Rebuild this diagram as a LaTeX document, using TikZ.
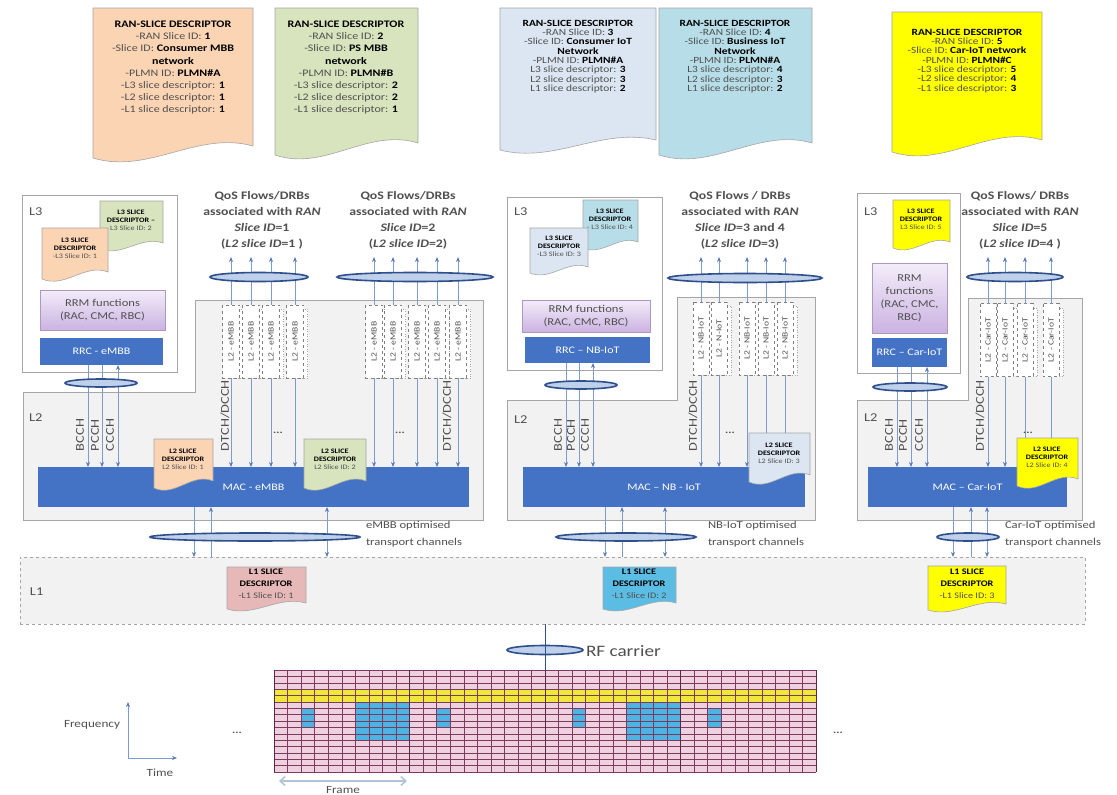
\documentclass[tikz,border=0pt]{standalone}
\usepackage{fontspec}
\setmainfont{Carlito}[FakeStretch=1.2]
\usetikzlibrary{arrows.meta,shapes.geometric,calc}

\definecolor{peach}{HTML}{FBD4B4}
\definecolor{sgreen}{HTML}{D7E4BD}
\definecolor{sgray}{HTML}{DCE6F2}
\definecolor{steal}{HTML}{B7DEE8}
\definecolor{syellow}{HTML}{FFFF00}
\definecolor{spink}{HTML}{E6B9B8}
\definecolor{sblue}{HTML}{5BBCE4}
\definecolor{macblue}{HTML}{4472C4}
\definecolor{rrmtop}{HTML}{F3ECF9}
\definecolor{rrmbot}{HTML}{CBB3E2}
\definecolor{boxgray}{HTML}{F2F2F2}
\definecolor{edgegray}{HTML}{A6A6A6}
\definecolor{flowblue}{HTML}{7E9BCF}
\definecolor{tipblue}{HTML}{5A7BB8}
\definecolor{tubeedge}{HTML}{2E4F8C}
\definecolor{tubefill}{HTML}{BFD0EA}
\definecolor{txtgray}{HTML}{505050}
\definecolor{cellpink}{HTML}{EFD0DF}
\definecolor{cellline}{HTML}{7D3A5E}
\definecolor{cellyellow}{HTML}{EDE83A}
\definecolor{cellblue}{HTML}{4DB3E3}
\definecolor{framearrow}{HTML}{B4C5D9}

\newcommand{\bk}[1]{\textbf{\color{black}#1}}
\newcommand{\fs}[2]{\fontsize{#1}{#2}\selectfont}
% rectangle node given by two corners
\newcommand{\rectnode}[7]{%
  \node[#2, minimum width={(#5-#3)*1pt}, minimum height={(#6-#4)*1pt}]
    (#1) at ({(#3+#5)/2},{(#4+#6)/2}) {#7};}
% document outline with a wavy lower edge
\newcommand{\docpath}[6]{%
  \path[docedge, fill=#1] (#2,#3) -- (#4,#3) -- (#4,#5)
    .. controls ({#2+0.65*(#4-#2)},{#5-1.3*#6}) and ({#2+0.35*(#4-#2)},{#5+2.4*#6})
    .. (#2,{#5+#6}) -- cycle;}
% block of resource-grid cells: colour, first col, last col, first row, last row
\newcommand{\cells}[5]{%
  \fill[#1] ({274+#2*13.55},{670+#4*6.375}) rectangle ({274+(#3+1)*13.55},{670+(#5+1)*6.375});}

\tikzset{
  every node/.style={inner sep=0pt, outer sep=0pt},
  docedge/.style={draw=edgegray, line width=0.6pt},
  layerbox/.style={draw=edgegray, fill=white, line width=0.8pt},
  layerarea/.style={draw=edgegray, fill=boxgray, line width=0.8pt},
  l1box/.style={draw=edgegray, fill=boxgray, dashed, line width=0.8pt},
  layerlbl/.style={font=\fs{12}{14}, text=txtgray},
  rrmbox/.style={top color=rrmtop, bottom color=rrmbot, draw=rrmbot!85!black, line width=0.4pt, align=center, text=txtgray, font=\fs{10.5}{13}},
  rrcbox/.style={fill=macblue, text=white, font=\fs{10}{12}},
  macbox/.style={fill=macblue, text=white, font=\fs{10}{12}},
  flow/.style={draw=flowblue, line width=0.8pt, -{Stealth[length=5pt,width=4pt,color=tipblue]}},
  flowtwo/.style={draw=flowblue, line width=0.8pt, {Stealth[length=5pt,width=4pt,color=tipblue]}-{Stealth[length=5pt,width=4pt,color=tipblue]}},
  tube/.style={ellipse, draw=tubeedge, fill=tubefill, line width=1.6pt},
  colbox/.style={draw=gray, dashed, fill=white, rotate=90, minimum width=73pt, minimum height=17pt, font=\fs{8}{9}, text=txtgray, line width=0.5pt},
  stackbox/.style={draw=gray!70, dotted, fill=white, line width=0.5pt},
  chlabel/.style={rotate=90, anchor=west, font=\fs{12}{12}, text=txtgray},
  qos/.style={anchor=north, align=center, font=\bfseries\fs{11.5}{16}, text=txtgray},
  topdesc/.style={anchor=north, align=center, text=txtgray},
  smalldesc/.style={align=center, text=txtgray, font=\fs{6.8}{8}},
  lonedesc/.style={align=center, text=txtgray, font=\fs{8.5}{12}},
  trans/.style={anchor=north west, align=left, font=\fs{10.5}{17}, text=txtgray},
  dots/.style={font=\bfseries\fs{10}{10}, text=txtgray},
  gridl/.style={draw=cellline, line width=0.4pt},
  framesep/.style={draw=cellline!70!black, line width=1pt},
  framearr/.style={draw=framearrow, line width=1.6pt, {Straight Barb[length=5pt,width=9pt]}-{Straight Barb[length=5pt,width=9pt]}},
  axis/.style={draw=flowblue, line width=0.8pt, -{Stealth[length=5pt,width=4pt,color=tipblue]}},
  rfline/.style={draw=tubeedge, line width=1pt},
}

\begin{document}
\begin{tikzpicture}[x=1pt, y=-1pt]
\useasboundingbox (0,0) rectangle (1117,795);
\fill[white] (0,0) rectangle (1117,795);

% ---------------- RAN slice descriptors ----------------
\docpath{peach}{93}{8}{253}{146}{12}
\node[topdesc, font=\fs{10}{12.2}] (rsA) at (173,21) {\bk{RAN-SLICE DESCRIPTOR}\\ -RAN Slice ID: \bk{1}\\ -Slice ID: \bk{Consumer MBB}\\ \bk{network}\\ -PLMN ID: \bk{PLMN\#A}\\ -L3 slice descriptor: \bk{1}\\ -L2 slice descriptor: \bk{1}\\ -L1 slice descriptor: \bk{1}};
\docpath{sgreen}{275}{8}{418}{143}{12}
\node[topdesc, font=\fs{10}{12.2}] (rsB) at (346,21) {\bk{RAN-SLICE DESCRIPTOR}\\ -RAN Slice ID: \bk{2}\\ -Slice ID: \bk{PS MBB}\\ \bk{network}\\ -PLMN ID: \bk{PLMN\#B}\\ -L3 slice descriptor: \bk{2}\\ -L2 slice descriptor: \bk{2}\\ -L1 slice descriptor: \bk{1}};
\docpath{sgray}{500}{8}{656}{140}{10}
\node[topdesc, font=\fs{9.5}{9.3}] (rsC) at (578,20) {\bk{RAN-SLICE DESCRIPTOR}\\ -RAN Slice ID: \bk{3}\\ -Slice ID: \bk{Consumer IoT}\\ \bk{Network}\\ -PLMN ID: \bk{PLMN\#A}\\ L3 slice descriptor: \bk{3}\\ L2 slice descriptor: \bk{3}\\ L1 slice descriptor: \bk{2}};
\docpath{steal}{659}{8}{812}{143}{12}
\node[topdesc, font=\fs{9.5}{9.3}] (rsD) at (735,20) {\bk{RAN-SLICE DESCRIPTOR}\\ -RAN Slice ID: \bk{4}\\ -Slice ID: \bk{Business IoT}\\ \bk{Network}\\ -PLMN ID: \bk{PLMN\#A}\\ L3 slice descriptor: \bk{4}\\ L2 slice descriptor: \bk{3}\\ L1 slice descriptor: \bk{2}};
\docpath{syellow}{892}{12}{1042}{140}{12}
\node[topdesc, font=\fs{9.5}{9.3}] (rsE) at (967,29) {\bk{RAN-SLICE DESCRIPTOR}\\ -RAN Slice ID: \bk{5}\\ -Slice ID: \bk{Car-IoT network}\\ -PLMN ID: \bk{PLMN\#C}\\ -L3 slice descriptor: \bk{5}\\ -L2 slice descriptor: \bk{4}\\ -L1 slice descriptor: \bk{3}};

% ---------------- layer frames ----------------
\rectnode{l3A}{layerbox}{22}{195}{177}{372}{}
\rectnode{l3B}{layerbox}{507}{197}{662}{370}{}
\rectnode{l3C}{layerbox}{857}{193}{960}{373}{}
\path[layerarea] (23,392) -- (195,392) -- (195,300) -- (483,300) -- (483,520) -- (23,520) -- cycle;
\path[layerarea] (507,400) -- (677,400) -- (677,297) -- (815,297) -- (815,520) -- (507,520) -- cycle;
\path[layerarea] (857,400) -- (968,400) -- (968,298) -- (1082,298) -- (1082,520) -- (857,520) -- cycle;
\rectnode{l1}{l1box}{20}{557}{1085}{624}{}

\node[layerlbl, anchor=west] (lab3A) at (29,212) {L3};
\node[layerlbl, anchor=west] (lab3B) at (514,212) {L3};
\node[layerlbl, anchor=west] (lab3C) at (864,212) {L3};
\node[layerlbl, anchor=west] (lab2A) at (29,418) {L2};
\node[layerlbl, anchor=west] (lab2B) at (514,420) {L2};
\node[layerlbl, anchor=west] (lab2C) at (864,418) {L2};
\node[layerlbl, anchor=west] (lab1) at (30,592) {L1};

% ---------------- RRM / RRC / MAC ----------------
\rectnode{rrmA}{rrmbox}{40}{290}{165}{330}{RRM functions\\(RAC, CMC, RBC)}
\rectnode{rrcA}{rrcbox}{40}{338}{163}{365}{RRC - eMBB}
\rectnode{rrmB}{rrmbox}{522}{300}{650}{332}{RRM functions\\(RAC, CMC, RBC)}
\rectnode{rrcB}{rrcbox}{525}{337}{650}{363}{RRC – NB-IoT}
\rectnode{rrmC}{rrmbox}{872}{263}{947}{333}{RRM\\functions\\(RAC, CMC,\\RBC)}
\rectnode{rrcC}{rrcbox}{872}{338}{947}{367}{RRC – Car-IoT}
\rectnode{macA}{macbox}{38}{467}{469}{507}{MAC - eMBB}
\rectnode{macB}{macbox}{523}{467}{805}{507}{MAC – NB - IoT}
\rectnode{macC}{macbox}{868}{467}{1067}{507}{MAC – Car-IoT}

% ---------------- logical channels RRC -> MAC ----------------
\coordinate (chA1) at (88,0);  \coordinate (chA2) at (102,0); \coordinate (chA3) at (118,0);
\coordinate (chB1) at (566,0); \coordinate (chB2) at (579,0); \coordinate (chB3) at (593,0);
\coordinate (chC1) at (897,0); \coordinate (chC2) at (911,0); \coordinate (chC3) at (927,0);
\foreach \b in {A,B,C}{
  \draw[flow] (rrc\b.south -| ch\b1) -- (mac\b.north -| ch\b1);
  \draw[flow] (rrc\b.south -| ch\b2) -- (mac\b.north -| ch\b2);
  \draw[flowtwo] (rrc\b.south -| ch\b3) -- (mac\b.north -| ch\b3);
}
\node[tube, minimum width=72pt, minimum height=8pt] (ctA) at (101,383) {};
\node[tube, minimum width=72pt, minimum height=8pt] (ctB) at (581,385) {};
\node[tube, minimum width=74pt, minimum height=8pt] (ctC) at (910,387) {};

\foreach \b/\x in {A/80,B/558,C/889}{
  \node[chlabel] (bcch\b) at (\x,451) {BCCH};
}
\foreach \b/\x in {A/95,B/571,C/903}{
  \node[chlabel] (pcch\b) at (\x,451) {PCCH};
}
\foreach \b/\x in {A/110,B/585,C/919}{
  \node[chlabel] (ccch\b) at (\x,451) {CCCH};
}

% ---------------- L2 entities and QoS flows ----------------
\coordinate (qtop) at (0,257);
\foreach \n/\x in {ca1/231,ca2/251,ca3/271,ca4/295,ca5/374,ca6/393,ca7/417,ca8/437,ca9/458}{
  \draw[stackbox] ({\x-4.5},309) rectangle ({\x+12.5},378);
  \node[colbox] (\n) at (\x,341.5) {L2 - eMBB};
  \draw[flow] (\n.west) -- (\n.west |- macA.north);
  \draw[flow] (\n.east) -- (\n.east |- qtop);
}
\foreach \n/\x/\t in {cb1/701/L2 - NB-IoT,cb2/719/L2 - N-IoT,cb3/747/L2 - NB-IoT,cb4/766/L2 - NB-IoT,cb5/785/L2 - NB-IoT}{
  \draw[stackbox] ({\x-4},306) rectangle ({\x+12},375);
  \node[colbox, minimum height=16pt] (\n) at (\x,338.5) {\t};
  \draw[flow] (\n.west) -- (\n.west |- macB.north);
  \draw[flow] (\n.east) -- (\n.east |- qtop);
}
\foreach \n/\x in {cc1/988,cc2/1005,cc3/1025,cc4/1051}{
  \draw[stackbox] ({\x-4},308) rectangle ({\x+12},376);
  \node[colbox, minimum height=16pt] (\n) at (\x,340) {L2 - Car-IoT};
  \draw[flow] (\n.west) -- (\n.west |- macC.north);
  \draw[flow] (\n.east) -- (\n.east |- qtop);
}
\node[tube, minimum width=98pt, minimum height=9pt] (qeA1) at (259,277) {};
\node[tube, minimum width=156pt, minimum height=9pt] (qeA2) at (415,277) {};
\node[tube, minimum width=154pt, minimum height=9pt] (qeB) at (745,278) {};
\node[tube, minimum width=96pt, minimum height=9pt] (qeC) at (1015,277) {};

\node[chlabel] (dtA1) at (225,451) {DTCH/DCCH};
\node[chlabel] (dtA2) at (447,451) {DTCH/DCCH};
\node[chlabel] (dtB) at (693,451) {DTCH/DCCH};
\node[chlabel] (dtC) at (980,451) {DTCH/DCCH};
\node[dots] (dA1) at (278,433) {...};
\node[dots] (dA2) at (400,433) {...};
\node[dots] (dB) at (730,433) {...};
\node[dots] (dC) at (1028,433) {...};

\node[qos] (qA1) at (262,191) {QoS Flows/DRBs\\associated with \textit{RAN}\\\textit{Slice ID}=1\\(\textit{L2 slice ID}=1 )};
\node[qos] (qA2) at (408,191) {QoS Flows/DRBs\\associated with \textit{RAN}\\\textit{Slice ID}=2\\(\textit{L2 slice ID}=2)};
\node[qos] (qB) at (740,191) {QoS Flows / DRBs\\associated with \textit{RAN}\\\textit{Slice ID}=3 and 4\\(\textit{L2 slice ID}=3)};
\node[qos] (qC) at (1020,191) {QoS Flows/ DRBs\\associated with \textit{RAN}\\\textit{Slice ID}=5\\(\textit{L2 slice ID}=4 )};

% ---------------- transport channels MAC -> L1 ----------------
\coordinate (tA1) at (194,0); \coordinate (tA2) at (211,0); \coordinate (tA3) at (327,0);
\coordinate (tB1) at (605,0); \coordinate (tB2) at (622,0); \coordinate (tB3) at (665,0);
\coordinate (tC1) at (953,0); \coordinate (tC2) at (971,0); \coordinate (tC3) at (987,0);
\foreach \b in {A,B,C}{
  \draw[flow] (mac\b.south -| t\b1) -- (l1.north -| t\b1);
  \draw[flow] (l1.north -| t\b2) -- (mac\b.south -| t\b2);
  \draw[flowtwo] (mac\b.south -| t\b3) -- (l1.north -| t\b3);
}
\node[tube, minimum width=210pt, minimum height=8pt] (ttA) at (255,537) {};
\node[tube, minimum width=140pt, minimum height=8pt] (ttB) at (626,537) {};
\node[tube, minimum width=62pt, minimum height=8pt] (ttC) at (968,537) {};
\node[trans] (trA) at (366,521) {eMBB optimised\\transport channels};
\node[trans] (trB) at (708,521) {NB-IoT optimised\\transport channels};
\node[trans] (trC) at (1005,521) {Car-IoT optimised\\transport channels};

% ---------------- L3 / L2 / L1 slice descriptors ----------------
\docpath{sgreen}{100}{201}{163}{243}{6}
\node[smalldesc] (l3dA2) at (131,220) {\bk{L3 SLICE}\\\bk{DESCRIPTOR –}\\L3 Slice ID: 2};
\docpath{peach}{42}{228}{108}{272}{7}
\node[smalldesc] (l3dA1) at (75,248) {\bk{L3 SLICE}\\\bk{DESCRIPTOR}\\-L3 Slice ID: 1};
\docpath{steal}{583}{200}{638}{242}{6}
\node[smalldesc] (l3dB2) at (610,219) {\bk{L3 SLICE}\\\bk{DESCRIPTOR}\\- L3 Slice ID: 4};
\docpath{sgray}{530}{228}{588}{267}{6}
\node[smalldesc] (l3dB1) at (559,246) {\bk{L3 SLICE}\\\bk{DESCRIPTOR}\\-L3 Slice ID: 3};
\docpath{syellow}{893}{200}{950}{242}{6}
\node[smalldesc] (l3dC) at (921,219) {\bk{L3 SLICE}\\\bk{DESCRIPTOR}\\L3 Slice ID: 5};

\docpath{peach}{154}{439}{213}{481}{7}
\node[smalldesc] (l2dA1) at (183,459) {\bk{L2 SLICE}\\\bk{DESCRIPTOR}\\L2 Slice ID: 1};
\docpath{sgreen}{304}{439}{366}{481}{7}
\node[smalldesc] (l2dA2) at (335,459) {\bk{L2 SLICE}\\\bk{DESCRIPTOR}\\L2 Slice ID: 2};
\docpath{sgray}{749}{433}{810}{475}{7}
\node[smalldesc] (l2dB) at (779,453) {\bk{L2 SLICE}\\\bk{DESCRIPTOR}\\L2 Slice ID: 3};
\docpath{syellow}{1017}{438}{1078}{479}{7}
\node[smalldesc] (l2dC) at (1047,457) {\bk{L2 SLICE}\\\bk{DESCRIPTOR}\\L2 Slice ID: 4};

\docpath{spink}{227}{567}{306}{603}{6}
\node[lonedesc] (l1dA) at (266,584) {\bk{L1 SLICE}\\\bk{DESCRIPTOR}\\-L1 Slice ID: 1};
\docpath{sblue}{603}{567}{676}{603}{6}
\node[lonedesc] (l1dB) at (639,584) {\bk{L1 SLICE}\\\bk{DESCRIPTOR}\\-L1 Slice ID: 2};
\docpath{syellow}{928}{566}{1006}{604}{6}
\node[lonedesc] (l1dC) at (967,584) {\bk{L1 SLICE}\\\bk{DESCRIPTOR}\\-L1 Slice ID: 3};

% ---------------- RF carrier ----------------
\coordinate (rfx) at (545,0);
\coordinate (gridtop) at (545,670);
\node[tube, minimum width=76pt, minimum height=9pt] (rfe) at (545,650) {};
\draw[rfline] (l1.south -| rfx) -- (gridtop);
\node[anchor=west, font=\fs{16}{18}, text=txtgray] (rft) at (586,651) {RF carrier};

% ---------------- time/frequency resource grid ----------------
\fill[cellpink] (274,670) rectangle (816,772);
\cells{cellyellow}{0}{39}{3}{4}
\cells{cellblue}{2}{2}{6}{8}
\cells{cellblue}{6}{9}{5}{10}
\cells{cellblue}{12}{12}{6}{8}
\cells{cellblue}{22}{22}{6}{8}
\cells{cellblue}{26}{29}{5}{10}
\cells{cellblue}{32}{32}{6}{8}
\foreach \i in {0,...,40}{\draw[gridl] ({274+\i*13.55},670) -- ({274+\i*13.55},772);}
\foreach \j in {0,...,16}{\draw[gridl] (274,{670+\j*6.375}) -- (816,{670+\j*6.375});}
\foreach \i in {0,10,20,30,40}{\draw[framesep] ({274+\i*13.55},670) -- ({274+\i*13.55},772);}

\coordinate (fa) at (279,781);
\coordinate (fb) at (407,781);
\draw[framearr] (fa) -- (fb);
\node[anchor=north, font=\fs{11}{12}, text=txtgray] (frm) at (343,786) {Frame};

\node[dots] (gdl) at (237,733) {...};
\node[dots] (gdr) at (838,733) {...};

\coordinate (org) at (128,758);
\coordinate (fup) at (128,702);
\coordinate (tright) at (177,758);
\draw[axis] (org) -- (fup);
\draw[axis] (org) -- (tright);
\node[font=\fs{11}{12}, text=txtgray] (freq) at (92,725) {Frequency};
\node[font=\fs{11}{12}, text=txtgray] (time) at (160,773) {Time};
\end{tikzpicture}
\end{document}
